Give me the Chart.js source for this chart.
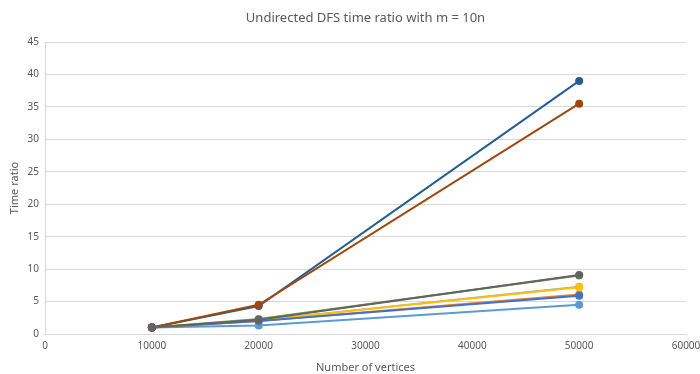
<!DOCTYPE html>
<html>
<head>
<meta charset="utf-8">
<script src="https://cdn.jsdelivr.net/npm/chart.js@4/dist/chart.umd.min.js"></script>
<style>
html,body{margin:0;padding:0;background:#fff;}
#wrap{width:700px;height:374px;}
</style>
</head>
<body>
<div id="wrap"><canvas id="c" width="700" height="374"></canvas></div>
<script>
const chartTitle = "Undirected DFS time ratio with m = 10n";
const xTitle = "Number of vertices";
const yTitle = "Time ratio";
const vertices = [10000, 20000, 50000];
const series1 = [1, 1.3, 4.5];
const series2 = [1, 2.0, 6.1];
const series3 = [1, 2.1, 7.3];
const series4 = [1, 2.1, 7.2];
const series5 = [1, 2.0, 5.9];
const series6 = [1, 2.3, 9.0];
const series7 = [1, 4.3, 39.0];
const series8 = [1, 4.5, 35.5];
const series9 = [1, 2.2, 9.1];
const allSeries = [series1, series2, series3, series4, series5, series6, series7, series8, series9];
const colors = ['#5B9BD5','#ED7D31','#A5A5A5','#FFC000','#4472C4','#70AD47','#255E91','#9E480E','#636363'];

const datasets = allSeries.map((s, i) => ({
  label: 'Series' + (i + 1),
  data: vertices.map((x, j) => ({x: x, y: s[j]})),
  borderColor: colors[i],
  backgroundColor: colors[i],
  borderWidth: 2,
  pointRadius: 3,
  pointHoverRadius: 3,
  showLine: true,
  tension: 0,
  order: allSeries.length - i
}));

const FONT = "'Noto Sans', 'Open Sans', sans-serif";

const titlePlugin = {
  id: 'centeredTitle',
  afterDraw(chart) {
    const ctx = chart.ctx;
    const a = chart.chartArea;
    ctx.save();
    ctx.font = "13px " + FONT;
    ctx.fillStyle = '#595959';
    ctx.textAlign = 'center';
    ctx.textBaseline = 'middle';
    ctx.fillText(chartTitle, (a.left + a.right) / 2, 18);
    ctx.restore();
  }
};

new Chart(document.getElementById('c'), {
  type: 'scatter',
  data: { datasets },
  plugins: [titlePlugin],
  options: {
    responsive: false,
    animation: false,
    layout: { padding: { top: 42, right: 0, left: 4, bottom: 0 } },
    plugins: {
      legend: { display: false },
      title: { display: false },
      tooltip: { enabled: false }
    },
    scales: {
      x: {
        type: 'linear',
        min: 0, max: 60000,
        ticks: { stepSize: 10000, color: '#595959', font: { size: 10, family: FONT }, padding: 6, maxRotation: 0,
                 callback: (v) => String(v) },
        grid: { display: false, drawTicks: false },
        border: { display: true, color: '#d9d9d9', width: 1 },
        title: { display: true, text: xTitle, color: '#595959', font: { size: 11, family: FONT }, padding: { top: 4, bottom: 0 } },
        afterFit(scale) { scale.height = 40; scale.paddingRight = 14; scale.paddingLeft = 0; }
      },
      y: {
        min: 0, max: 45,
        ticks: { stepSize: 5, color: '#595959', font: { size: 10, family: FONT }, padding: 6 },
        grid: { color: '#d9d9d9', drawTicks: false },
        border: { display: true, color: '#d9d9d9', width: 1 },
        title: { display: true, text: yTitle, color: '#595959', font: { size: 11, family: FONT }, padding: { bottom: 0 } },
        afterFit(scale) { scale.width = 41; }
      }
    }
  }
});
</script>
</body>
</html>
